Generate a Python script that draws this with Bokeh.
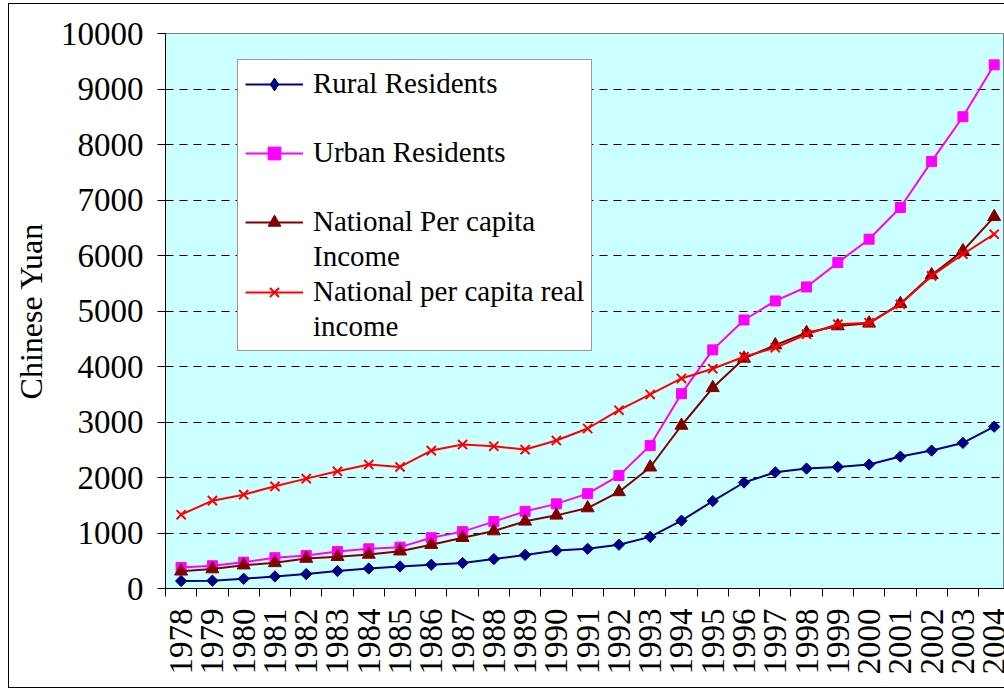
from math import pi
from bokeh.plotting import figure
from bokeh.models import ColumnDataSource, Range1d, FixedTicker, Legend, LegendItem
from bokeh.embed import file_html
from bokeh.resources import INLINE

years = [str(y) for y in range(1978, 2005)]
rural = [135, 140, 175, 217, 260, 315, 360, 397, 428, 460, 530, 605, 685, 715, 789, 930,
         1222, 1575, 1910, 2094, 2161, 2190, 2233, 2377, 2485, 2623, 2915]
urban = [380, 410, 475, 555, 595, 665, 715, 745, 915, 1025, 1205, 1390, 1525, 1709, 2034,
         2575, 3510, 4300, 4838, 5181, 5433, 5872, 6294, 6865, 7695, 8500, 9435]
national = [310, 350, 420, 462, 540, 572, 613, 672, 790, 915, 1035, 1210, 1318, 1450, 1740,
            2185, 2937, 3616, 4146, 4386, 4608, 4729, 4778, 5132, 5650, 6083, 6697]
real = [1330, 1583, 1691, 1841, 1980, 2112, 2233, 2190, 2485, 2594, 2563, 2503, 2666, 2883,
        3213, 3496, 3785, 3960, 4175, 4338, 4580, 4760, 4789, 5121, 5632, 6023, 6384]
labels = ["Rural Residents", "Urban Residents", "National Per capita", "Income",
          "National per capita real", "income"]

idx = list(range(len(years)))
src = ColumnDataSource(dict(x=idx, rural=rural, urban=urban, national=national, real=real))

FONT = "Liberation Serif"

p = figure(width=1004, height=692, x_range=Range1d(-0.5, 26.33), y_range=Range1d(0, 10000),
           output_backend="svg", toolbar_location=None,
           min_border_left=165, min_border_right=0, min_border_top=33, min_border_bottom=104,
           background_fill_color="#CCFFFF", border_fill_color=None,
           outline_line_color="#808080")

# outer chart border (left, top, bottom edges) drawn behind the canvas
p.styles = {
    "background-color": "white",
    "box-shadow": ("inset 8px 0 0 white, inset 0 3px 0 white, inset 0 -4px 0 white, "
                   "inset 9px 0 0 black, inset 0 4px 0 black, inset 0 -5px 0 black"),
}

# axes
p.xaxis.ticker = FixedTicker(ticks=idx, minor_ticks=[i - 0.5 for i in idx])
p.xaxis.major_label_overrides = {i: years[i] for i in idx}
p.xaxis.major_label_orientation = pi / 2
p.xaxis.major_tick_out = 0
p.xaxis.major_tick_in = 0
p.xaxis.minor_tick_out = 8
p.xaxis.minor_tick_in = 0
p.xaxis.minor_tick_line_color = "black"
p.xaxis.major_label_standoff = 12

p.yaxis.ticker = FixedTicker(ticks=list(range(0, 10001, 1000)))
p.yaxis.major_tick_out = 8
p.yaxis.major_tick_in = 0
p.yaxis.minor_tick_line_color = None
p.yaxis.major_label_standoff = 14
p.yaxis.axis_label = "Chinese Yuan"
p.yaxis.axis_label_standoff = 9
p.yaxis.axis_label_text_font = FONT
p.yaxis.axis_label_text_font_size = "32px"
p.yaxis.axis_label_text_font_style = "normal"
p.yaxis.axis_label_text_color = "black"

for ax in (p.xaxis, p.yaxis):
    ax.axis_line_color = "black"
    ax.major_tick_line_color = "black"
    ax.major_label_text_font = FONT
    ax.major_label_text_font_size = "33px"
    ax.major_label_text_color = "black"

p.xgrid.visible = False
p.ygrid.grid_line_color = "black"
p.ygrid.grid_line_dash = "8 6"
p.ygrid.grid_line_width = 1

# series
lr = p.line("x", "rural", source=src, line_color="#000080", line_width=2)
sr = p.scatter("x", "rural", source=src, marker="square", angle=pi / 4, size=8,
               color="#000080")
lu = p.line("x", "urban", source=src, line_color="#FF00FF", line_width=2)
su = p.scatter("x", "urban", source=src, marker="square", size=10, color="#FF00FF")
ln = p.line("x", "national", source=src, line_color="#800000", line_width=2)
sn = p.scatter("x", "national", source=src, marker="triangle", size=13, color="#800000")
lre = p.line("x", "real", source=src, line_color="#FF0000", line_width=2)
sre = p.scatter("x", "real", source=src, marker="x", size=13, line_color="#FF0000",
                line_width=2)

# legend-only helpers (no visible marks in the plot)
nan_src = ColumnDataSource(dict(x=[float("nan")], y=[float("nan")]))
leg_diamond = p.scatter("x", "y", source=nan_src, marker="diamond", color="#000080")
blank = p.line("x", "y", source=nan_src, line_alpha=0)

items = [
    LegendItem(label=labels[0], renderers=[lr, leg_diamond]),
    LegendItem(label=" ", renderers=[blank]),
    LegendItem(label=labels[1], renderers=[lu, su]),
    LegendItem(label=" ", renderers=[blank]),
    LegendItem(label=labels[2], renderers=[ln, sn]),
    LegendItem(label=labels[3], renderers=[blank]),
    LegendItem(label=labels[4], renderers=[lre, sre]),
    LegendItem(label=labels[5], renderers=[blank]),
]
legend = Legend(items=items, location=(72, 237), label_text_font=FONT,
                label_text_font_size="29px", label_text_color="black",
                label_standoff=10, glyph_width=58, glyph_height=32, label_height=32,
                spacing=2, padding=7, margin=0,
                border_line_color="#333333", border_line_width=1.5,
                background_fill_color="white", background_fill_alpha=1.0)
p.add_layout(legend, "center")

open("out.html", "w").write(file_html(p, INLINE))
